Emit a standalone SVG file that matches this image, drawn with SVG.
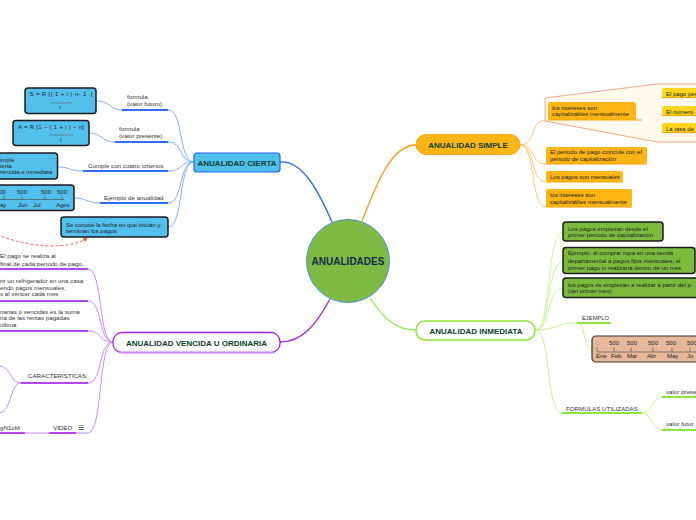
<svg xmlns="http://www.w3.org/2000/svg" width="696" height="520" viewBox="0 0 696 520">
<defs>
<marker id="arr" viewBox="0 0 10 10" refX="8" refY="5" markerWidth="5" markerHeight="5" orient="auto-start-reverse">
<path d="M0,0 L10,5 L0,10 z" fill="#f06a5a"/>
</marker>
</defs>
<style>
text{font-family:"Liberation Sans",Arial,sans-serif;fill:#333;font-size:6.2px}
.h{font-weight:bold;font-size:8px;fill:#0b3d2e;text-anchor:middle}
.b{fill:#222;font-size:6px}
.c{text-anchor:middle}
.cb{fill:#52bfec;stroke:#1c1c1c;stroke-width:1.5}
.gb{fill:#7cba3d;stroke:#1c1c1c;stroke-width:1.5}
.ob{fill:#fdb515}
.ol{stroke:#f5a000;stroke-width:1.2;fill:none}
.yb{fill:#ffd51f}
.lb{stroke:#86aeff;stroke-width:1;fill:none}
.ub{stroke:#2e6bff;stroke-width:2;fill:none}
.lo{stroke:#ffc57a;stroke-width:1;fill:none}
.lg{stroke:#c5f39a;stroke-width:1;fill:none}
.ug{stroke:#8de63a;stroke-width:2;fill:none}
.lp{stroke:#c98bff;stroke-width:1;fill:none}
.up{stroke:#b347f5;stroke-width:2;fill:none}
.tl{stroke:#555;stroke-width:0.7;fill:none}
</style>

<g id="connectors">
<path d="M280,162 C302,160 318,190 332,222" stroke="#2a62ff" stroke-width="1.3" fill="none"/>
<path d="M362,221 C378,180 392,145 416,145" stroke="#ff9a1a" stroke-width="1.3" fill="none"/>
<path d="M370,298 C385,320 396,330 416,330" stroke="#90ec50" stroke-width="1.3" fill="none"/>
<path d="M330,299 C316,325 302,342 280,342" stroke="#a020f0" stroke-width="1.3" fill="none"/>
<path class="lb" d="M194,162 C178,162 184,110 168,110"/>
<path class="lb" d="M194,162 C178,162 184,142 168,142"/>
<path class="lb" d="M194,162 C178,162 184,171 168,171"/>
<path class="lb" d="M194,162 C178,162 184,203 168,203"/>
<path class="lb" d="M194,162 C178,162 184,227 168,227"/>
<path class="ub" d="M122,110 H168"/>
<path class="ub" d="M115,142 H168"/>
<path class="ub" d="M83,171 H168"/>
<path class="ub" d="M100,203 H168"/>
<path class="lb" d="M97,101 C110,101 110,110 122,110"/>
<path class="lb" d="M89,133 C102,133 102,142 115,142"/>
<path class="lb" d="M58,167 C70,167 70,171 83,171"/>
<path class="lb" d="M74,198 C87,198 87,203 100,203"/>
<path d="M87,238 C70,250 30,248 -2,235" stroke="#f06a5a" stroke-width="1" stroke-dasharray="3,2" fill="none" marker-start="url(#arr)"/>
<path class="lo" d="M520,145 C536,145 530,120 546,120"/>
<path class="lo" d="M520,145 C536,145 530,164 546,164"/>
<path class="lo" d="M520,145 C536,145 530,182 546,182"/>
<path class="lo" d="M520,145 C536,145 530,207 546,207"/>
<path class="lo" d="M642,120 C652,120 652,97 662,97"/>
<path class="lo" d="M642,120 C652,120 652,115 662,115"/>
<path class="lo" d="M642,120 C652,120 652,132 662,132"/>
<path class="lg" d="M535,330 C552,330 546,232 563,232"/>
<path class="lg" d="M535,330 C552,330 546,262 563,262"/>
<path class="lg" d="M535,330 C552,330 546,288 563,288"/>
<path class="lg" d="M535,330 C556,330 556,323 577,323"/>
<path class="lg" d="M535,330 C552,330 545,413 562,413"/>
<path class="lg" d="M577,323 C586,323 583,349 592,349"/>
<path class="ug" d="M577,323 H611"/>
<path class="ug" d="M562,413 H642"/>
<path class="lg" d="M642,413 C652,413 652,397 662,397"/>
<path class="lg" d="M642,413 C652,413 652,430 662,430"/>
<path class="ug" d="M662,397 H696"/>
<path class="ug" d="M662,430 H696"/>
<path class="lp" d="M113,342 C98,342 103,269 88,269"/>
<path class="lp" d="M113,342 C98,342 103,301 88,301"/>
<path class="lp" d="M113,342 C98,342 103,331 88,331"/>
<path class="lp" d="M113,342 C98,342 103,383 88,383"/>
<path class="lp" d="M113,342 C98,342 103,433 88,433"/>
<path class="up" d="M0,269 H88"/>
<path class="up" d="M0,301 H88"/>
<path class="up" d="M0,331 H88"/>
<path class="up" d="M21,383 H88"/>
<path class="lp" d="M21,383 C10,383 12,368 0,366"/>
<path class="lp" d="M21,383 C10,383 12,410 0,413"/>
<path class="up" d="M49,433 H76"/>
<path class="lp" d="M76,433 H88"/>
<path class="lp" d="M25,433 H49"/>
<path class="up" d="M0,433 H25"/>
</g>

<g id="central">
<circle cx="348" cy="261" r="41.5" fill="#7fba42" stroke="#4a90d9" stroke-width="1"/>
<text x="348" y="264.5" class="h" style="font-size:10px;fill:#13294b">ANUALIDADES</text>
</g>

<g id="cierta">
<rect x="194" y="153" width="86" height="19" rx="3" fill="#4fc0ea" stroke="#1a66ff" stroke-width="1.2"/>
<text x="237" y="165.5" class="h">ANUALIDAD CIERTA</text>
</g>
<g id="c-futuro"><text x="127" y="99">formula</text><text x="127" y="105.5">(valor futuro)</text></g>
<g id="c-presente"><text x="119" y="131">formula</text><text x="119" y="138">(valor presente)</text></g>
<g id="c-criterios"><text x="88" y="167.5">Cumple con cuatro criterios</text></g>
<g id="c-ejemplo"><text x="104" y="199.5">Ejemplo de anualidad</text></g>
<g id="c-box1">
<rect class="cb" x="25" y="88" width="71" height="25.5" rx="3"/>
<text x="29.5" y="96" class="b" textLength="63" lengthAdjust="spacing">S = R [( 1 + i ) n- 1 .]</text>
<line x1="50" y1="103" x2="72" y2="103" stroke="#555" stroke-width="0.5"/>
<text x="60" y="108.5" class="b c">i</text>
</g>
<g id="c-box2">
<rect class="cb" x="13" y="120.5" width="76" height="25" rx="3"/>
<text x="18" y="128.8" class="b" textLength="66" lengthAdjust="spacing">A = R [1 – ( 1 + i ) – n]</text>
<line x1="49" y1="135" x2="73" y2="135" stroke="#555" stroke-width="0.5"/>
<text x="61" y="142" class="b c">i</text>
</g>
<g id="c-box3">
<rect class="cb" x="-6" y="153" width="63.5" height="26" rx="3"/>
<text x="0" y="161.5" class="b">imple</text>
<text x="0" y="167.5" class="b">ierta</text>
<text x="0" y="173.8" class="b">rencida e inmediata</text>
</g>
<g id="c-box4">
<rect class="cb" x="-6" y="185" width="80" height="25.5" rx="3"/>
<text x="-1" y="193.8" class="b">00</text>
<text x="17" y="193.8" class="b">500</text>
<text x="41" y="193.8" class="b">500</text>
<text x="57" y="193.8" class="b">500</text>
<path class="tl" d="M0,199.5 H64 M4,195.5 V199.5 M22,195.5 V199.5 M45,195.5 V199.5 M62,195.5 V199.5"/>
<text x="0" y="207" class="b">ay</text>
<text x="18" y="207" class="b">Jun</text>
<text x="33" y="207" class="b">Jul</text>
<text x="56" y="207" class="b">Agos</text>
</g>
<g id="c-box5">
<rect class="cb" x="61" y="217" width="107" height="20" rx="3"/>
<text x="66" y="227" class="b">Se conoce la fecha en que inician y</text>
<text x="66" y="233.3" class="b">terminan los pagos</text>
</g>

<g id="simple">
<rect x="416" y="134.5" width="104" height="20" rx="10" fill="#fdb515" stroke="#f5a623" stroke-width="1"/>
<text x="468" y="147.5" class="h">ANUALIDAD SIMPLE</text>
</g>
<g id="s-callout">
<polygon points="545,98 657,84 700,84 700,142 657,142 545,121" fill="#fffaec" stroke="#f4a582" stroke-width="1"/>
</g>
<g id="s-box1">
<rect class="ob" x="548" y="102" width="88" height="18" rx="2"/>
<path class="ol" d="M548,120 H642"/>
<text x="552" y="110.3" class="b">los intereses son</text>
<text x="552" y="116.3" class="b">capitalizables mensualmente</text>
</g>
<g id="s-sub1"><rect class="yb" x="662" y="88" width="40" height="9.5" rx="2"/><path class="ol" d="M662,97.5 H700"/><text x="666" y="95.5" class="b">El pago per</text></g>
<g id="s-sub2"><rect class="yb" x="662" y="106" width="40" height="9.5" rx="2"/><path class="ol" d="M662,115.5 H700"/><text x="666" y="113.5" class="b">El número -</text></g>
<g id="s-sub3"><rect class="yb" x="662" y="123" width="40" height="9.5" rx="2"/><path class="ol" d="M662,132.5 H700"/><text x="666" y="130.5" class="b">La tasa de</text></g>
<g id="s-box2">
<rect class="ob" x="546" y="147" width="101" height="17" rx="2"/>
<path class="ol" d="M546,164 H647"/>
<text x="550" y="154.3" class="b">El periodo de pago coincide con el</text>
<text x="550" y="161" class="b">periodo de capitalización</text>
</g>
<g id="s-box3">
<rect class="ob" x="546" y="171" width="77" height="11" rx="2"/>
<path class="ol" d="M546,182 H623"/>
<text x="550" y="179.3" class="b">Los pagos son mensuales</text>
</g>
<g id="s-box4">
<rect class="ob" x="546" y="189" width="86" height="18" rx="2"/>
<path class="ol" d="M546,207 H632"/>
<text x="550" y="197" class="b">los intereses son</text>
<text x="550" y="203.7" class="b">capitalizables mensualmente</text>
</g>

<g id="inmediata">
<rect x="416" y="321" width="119" height="19" rx="9" fill="#fff" stroke="#8de63a" stroke-width="1.5"/>
<text x="476" y="333.5" class="h">ANUALIDAD INMEDIATA</text>
</g>
<g id="i-box1">
<rect class="gb" x="563" y="222" width="100" height="19" rx="3"/>
<text x="568" y="231" class="b">Los pagos empiezan desde el</text>
<text x="568" y="237" class="b">primer período de capitalización.</text>
</g>
<g id="i-box2">
<rect class="gb" x="563" y="247.5" width="132" height="26" rx="3"/>
<text x="568" y="255.3" class="b">Ejemplo: al comprar ropa en una tienda</text>
<text x="568" y="262.5" class="b">departamental a pagos fijos mensuales, el</text>
<text x="568" y="269.7" class="b">primer pago lo realizaría dentro de un mes.</text>
</g>
<g id="i-box3">
<rect class="gb" x="563" y="278" width="140" height="19.5" rx="3"/>
<text x="568" y="287" class="b">los pagos se empiezan a realizar a partir del p</text>
<text x="568" y="292.7" class="b">(del primer mes)</text>
</g>
<g id="i-ejemplo"><text x="582" y="319.5" style="font-size:5.8px">EJEMPLO</text></g>
<g id="i-timeline">
<rect x="592" y="336" width="110" height="26" rx="4" fill="#e6b899" stroke="#333" stroke-width="1.2"/>
<text x="597" y="345" class="b">.</text>
<text x="609" y="345" class="b">500</text>
<text x="627" y="345" class="b">500</text>
<text x="648" y="345" class="b">500</text>
<text x="666" y="345" class="b">500</text>
<text x="687" y="345" class="b">500</text>
<path class="tl" d="M597,352 H700 M597,347.5 V352 M614,347.5 V352 M631,347.5 V352 M653,347.5 V352 M672,347.5 V352 M690,347.5 V352"/>
<text x="596" y="358" class="b">Ene</text>
<text x="611" y="358" class="b">Feb</text>
<text x="627" y="358" class="b">Mar</text>
<text x="647" y="358" class="b">Abr</text>
<text x="667" y="358" class="b">May</text>
<text x="687" y="358" class="b">Ju</text>
</g>
<g id="i-formulas"><text x="566" y="410.5">FORMULAS UTILIZADAS</text></g>
<g id="i-presente"><text x="666" y="393.7">valor prese</text></g>
<g id="i-futuro"><text x="666" y="426">valor futur</text></g>

<g id="vencida">
<rect x="113" y="332.5" width="167" height="20" rx="9" fill="#fff" stroke="#a020f0" stroke-width="1.3"/>
<path d="M118,352.5 H275" stroke="#c98bff" stroke-width="1.5"/>
<text x="196.5" y="345.5" class="h">ANUALIDAD VENCIDA U ORDINARIA</text>
</g>
<g id="v-def"><text x="0" y="258">El pago se realiza al</text><text x="0" y="265.5">final de cada período de pago.</text></g>
<g id="v-ej"><text x="0" y="283">rir un refrigerador en una casa</text><text x="0" y="289.7">endo pagos mensuales,</text><text x="0" y="296.3">s al vencer cada mes</text></g>
<g id="v-suma"><text x="0" y="313.7">narias o vencidas es la suma</text><text x="0" y="320.3">na de las rentas pagadas</text><text x="0" y="327">última</text></g>
<g id="v-caract"><text x="28" y="378">CARACTERISTICAS:</text></g>
<g id="v-video"><text x="53" y="430">VIDEO</text><text x="78" y="430" style="font-family:'DejaVu Sans',sans-serif;font-size:7px">☰</text></g>
<g id="v-link"><text x="0" y="430">gN1oM</text></g>
</svg>
